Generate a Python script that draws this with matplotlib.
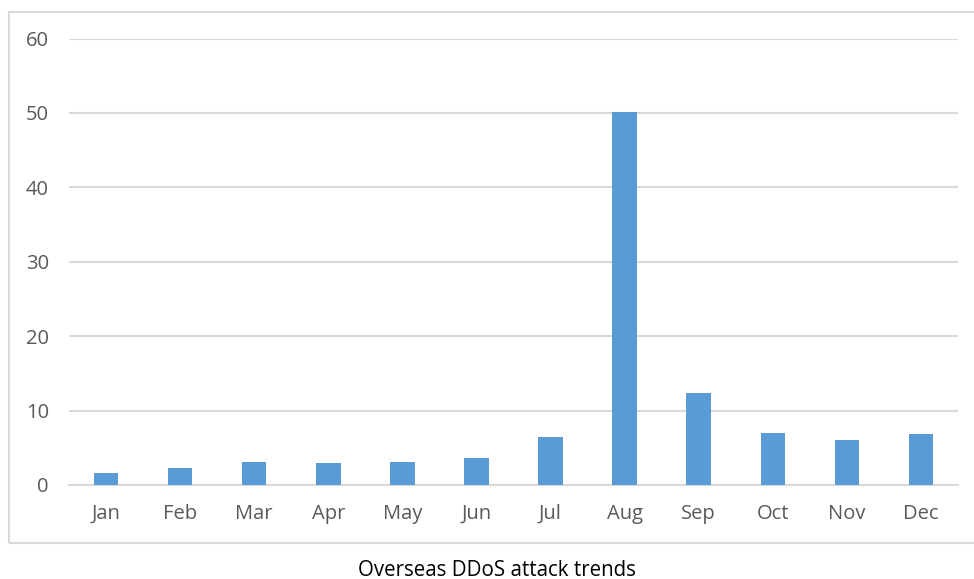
import matplotlib.pyplot as plt
from matplotlib.patches import Rectangle

# data
months = ['Jan', 'Feb', 'Mar', 'Apr', 'May', 'Jun',
          'Jul', 'Aug', 'Sep', 'Oct', 'Nov', 'Dec']
attacks = [1.65, 2.3, 3.1, 2.9, 3.1, 3.6, 6.5, 50.1, 12.3, 7.0, 6.0, 6.85]
yticks = [0, 10, 20, 30, 40, 50, 60]
title = 'Overseas DDoS attack trends'

plt.rcParams['font.family'] = ['Open Sans', 'DejaVu Sans']

fig = plt.figure(figsize=(9.74, 5.79), dpi=100)
ax = fig.add_axes([69/974, 1-485/579, (958-69)/974, (485-38.5)/579])

x = range(len(months))
ax.bar(x, attacks, width=0.33, color='#5B9BD5', zorder=3)

ax.set_xlim(-0.5, len(months)-0.5)
ax.set_ylim(0, 60)
ax.set_yticks(yticks)
ax.set_xticks(list(x))
ax.set_xticklabels(months)
ax.grid(axis='y', color='#d9d9d9', lw=1.5, zorder=0)
for s in ['top', 'right', 'left']:
    ax.spines[s].set_visible(False)
ax.spines['bottom'].set_color('#d9d9d9')
ax.spines['bottom'].set_linewidth(1.5)
ax.tick_params(axis='both', length=0, labelsize=14.5, colors='#595959')
ax.tick_params(axis='y', pad=14.5)
ax.tick_params(axis='x', pad=13.5)

# outer chart border
fig.patches.append(Rectangle((9/974, 1-543/579), 975/974, (543-12)/579,
                             transform=fig.transFigure, fill=False,
                             edgecolor='#d9d9d9', lw=1.5))

fig.text(497/974, 1-570/579, title, ha='center', va='center',
         fontsize=14.8, color='black')

fig.savefig('out.png', dpi=100)
